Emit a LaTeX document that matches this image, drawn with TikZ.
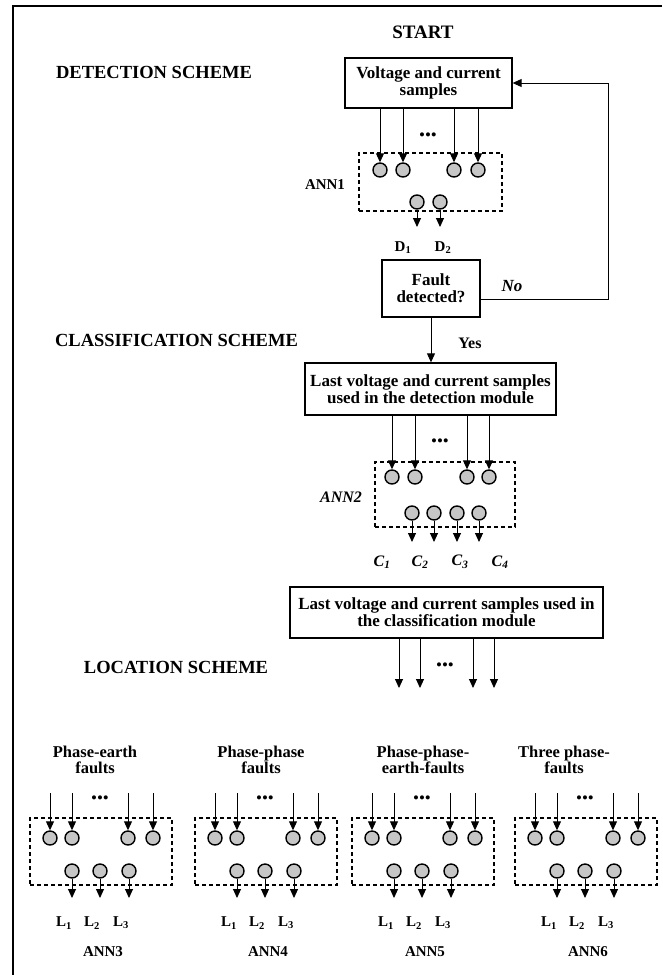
\documentclass[tikz,border=0pt]{standalone}
\usepackage{fontspec}
\setmainfont{Liberation Serif}
\usetikzlibrary{arrows.meta}

\begin{document}
\begin{tikzpicture}[x=1pt, y=-1pt,
  every node/.style={font=\bfseries},
  head/.style={font=\fontsize{18.5}{20}\selectfont\bfseries},
  blk/.style={draw, line width=1.3pt, align=center, inner sep=2pt, font=\fontsize{17}{17}\selectfont\bfseries},
  ann/.style={draw, line width=1.1pt, dash pattern=on 4pt off 3pt, inner sep=0pt},
  neuron/.style={circle, draw, line width=1.4pt, fill=gray!45, minimum size=14pt, inner sep=0pt},
  edge/.style={-{Triangle[length=9pt, width=8pt]}, line width=0.9pt},
  lab/.style={font=\fontsize{15}{16}\selectfont\bfseries},
  ilab/.style={font=\fontsize{16}{16}\selectfont\bfseries\itshape},
  ttl/.style={align=center, font=\fontsize{16.5}{16}\selectfont\bfseries},
  dots/.style={font=\fontsize{17}{17}\selectfont, inner sep=0pt}]
  \useasboundingbox (0,0) rectangle (662,975);
  \draw[line width=1.8pt] (662,6) -- (13,6) -- (13,975);
  \node[head, font=\fontsize{19}{20}\selectfont\bfseries] (start) at (423,32) {START};
  \node[head] (dethead) at (154,72) {DETECTION SCHEME};
  \node[head] (clshead) at (176.5,340) {CLASSIFICATION SCHEME};
  \node[head] (lochead) at (176,667) {LOCATION SCHEME};
  \node[blk, minimum width=167pt, minimum height=50pt] (samples) at (428.5,83) {Voltage and current\\samples};
  \node[ann, minimum width=143pt, minimum height=58pt] (ann1) at (430.5,182) {};
  \node[lab] (ann1lab) at (325,185) {ANN1};
  \node[dots] (dots1) at (428,137) {•••};
  \foreach \k/\x in {a/380,b/403,c/454,d/478} {
    \node[neuron] (i1\k) at (\x,170) {};
    \draw[edge] (samples.south -| i1\k) -- (i1\k);
  }
  \foreach \k/\x in {a/417,b/440} {
    \node[neuron] (o1\k) at (\x,202) {};
    \coordinate (e1\k) at (\x,227);
    \draw[edge] (o1\k) -- (e1\k);
  }
  \node[lab] (d1) at (403,248) {D\textsubscript{1}};
  \node[lab] (d2) at (443,248) {D\textsubscript{2}};
  \node[blk, minimum width=98pt, minimum height=57pt] (fault) at (431,288.5) {Fault\\detected?};
  \coordinate (back) at (608,83);
  \draw[edge] ([yshift=-11pt]fault.east) -| (back) -- (samples.east);
  \node[ilab, font=\fontsize{17}{17}\selectfont\bfseries\itshape] (no) at (512,286) {No};
  \node[blk, minimum width=251pt, minimum height=52pt] (lastdet) at (430.5,389) {Last voltage and current samples\\used in the detection module};
  \draw[edge] (fault.south) -- (fault.south |- lastdet.north);
  \node[lab, font=\fontsize{16}{16}\selectfont\bfseries] (yes) at (470,343) {Yes};
  \node[ann, minimum width=140pt, minimum height=65pt] (ann2) at (445,494.5) {};
  \node[ilab] (ann2lab) at (341,497) {ANN2};
  \node[dots] (dots2) at (440,443) {•••};
  \foreach \k/\x in {a/392,b/415,c/467,d/489} {
    \node[neuron] (i2\k) at (\x,477) {};
    \draw[edge] (lastdet.south -| i2\k) -- (i2\k);
  }
  \foreach \k/\x in {a/412,b/434,c/457,d/479} {
    \node[neuron] (o2\k) at (\x,513) {};
    \coordinate (e2\k) at (\x,542);
    \draw[edge] (o2\k) -- (e2\k);
  }
  \foreach \k/\x in {1/382,2/420,3/460,4/500}
    \node[ilab] (c\k) at (\x,562) {C\textsubscript{\k}};
  \node[blk, minimum width=313pt, minimum height=51pt] (lastcls) at (446.5,612.5) {Last voltage and current samples used in\\the classification module};
  \node[dots] (dots3) at (445,667) {•••};
  \foreach \k/\x in {a/399,b/420,c/473,d/494} {
    \coordinate (e3\k) at (\x,688);
    \draw[edge] (lastcls.south -| e3\k) -- (e3\k);
  }
  \foreach \g/\bx/\gname/\tx in {3/30/{Phase-earth\\faults}/95, 4/195/{Phase-phase\\faults}/261, 5/352/{Phase-phase-\\earth-faults}/423, 6/515/{Three phase-\\faults}/564} {
    \node[ttl] (t\g) at (\tx,760) {\gname};
    \node[ann, minimum width=142pt, minimum height=67pt] (ann\g) at (\bx+71,851.5) {};
    \node[dots] (dots\g) at (\bx+70,800) {•••};
    \foreach \k/\dx in {a/20,b/42,c/98,d/123} {
      \coordinate (s\g\k) at (\bx+\dx,793);
      \node[neuron] (i\g\k) at (\bx+\dx,838) {};
      \draw[edge] (s\g\k) -- (i\g\k);
    }
    \foreach \k/\dx in {1/42,2/70,3/99} {
      \node[neuron] (o\g\k) at (\bx+\dx,871) {};
      \coordinate (e\g\k) at (\bx+\dx,898);
      \draw[edge] (o\g\k) -- (e\g\k);
      \node[lab] (l\g\k) at (\bx+\dx-8,923) {L\textsubscript{\k}};
    }
    \node[lab] (n\g) at (\bx+73,952) {ANN\g};
  }
\end{tikzpicture}
\end{document}
